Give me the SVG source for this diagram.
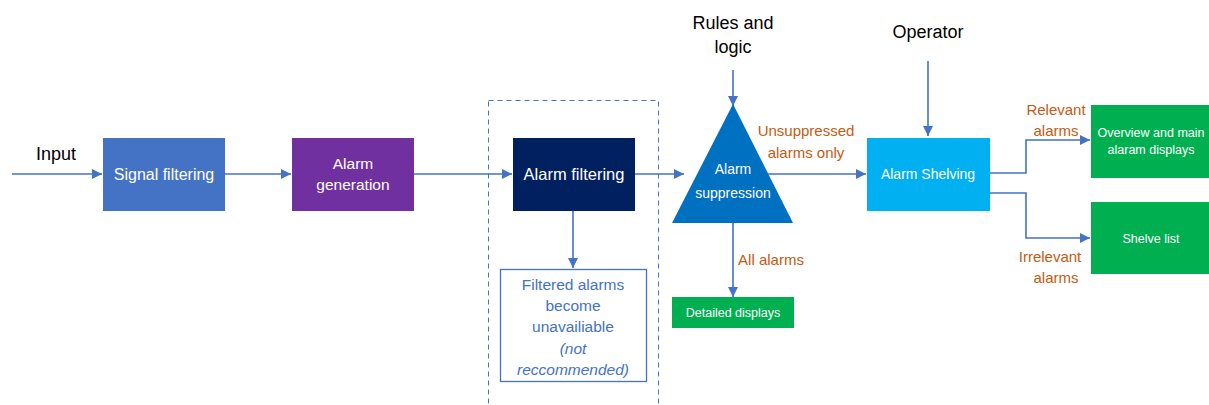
<svg xmlns="http://www.w3.org/2000/svg" width="1209" height="405" viewBox="0 0 1209 405">
<defs>
<marker id="ah" viewBox="0 0 10 10" refX="10" refY="5" markerWidth="10" markerHeight="10" markerUnits="userSpaceOnUse" orient="auto">
<path d="M0,0 L10,5 L0,10 z" fill="#4472C4"/>
</marker>
<style>
text{font-family:"Liberation Sans",Arial,sans-serif;text-anchor:middle}
.w{fill:#fff;font-size:14px}
.k{fill:#000;font-size:18px}
.o{fill:#C55A11;font-size:15px}
.b{fill:#4472C4;font-size:15.5px}
.c{fill:none;stroke:#4472C4;stroke-width:1.6}
</style>
</defs>
<rect width="1209" height="405" fill="#fff"/>
<rect x="488.5" y="100.5" width="170" height="310" fill="none" stroke="#4472C4" stroke-width="1" stroke-dasharray="5,4"/>
<g id="connectors">
<path class="c" d="M12,174 H102" marker-end="url(#ah)"/>
<path class="c" d="M225,174 H291" marker-end="url(#ah)"/>
<path class="c" d="M414,174 H512" marker-end="url(#ah)"/>
<path class="c" d="M635,174 H684" marker-end="url(#ah)"/>
<path class="c" d="M767,174 H866" marker-end="url(#ah)"/>
<path class="c" d="M733,70 V106" marker-end="url(#ah)"/>
<path class="c" d="M928,61 V136" marker-end="url(#ah)"/>
<path class="c" d="M573,211 V268" marker-end="url(#ah)"/>
<path class="c" d="M733,223 V297" marker-end="url(#ah)"/>
<path class="c" d="M990,173 H1026 V140 H1090" marker-end="url(#ah)"/>
<path class="c" d="M990,193 H1026 V238 H1090" marker-end="url(#ah)"/>
</g>
<g id="input"><text class="k" x="56" y="160">Input</text></g>
<g id="rules"><text class="k" x="733" y="29">Rules and</text><text class="k" x="733" y="53">logic</text></g>
<g id="operator"><text class="k" x="928" y="38">Operator</text></g>
<g id="signal-filtering"><rect x="103" y="138" width="122" height="73" fill="#4472C4"/><text class="w" x="164" y="180" style="font-size:16px">Signal filtering</text></g>
<g id="alarm-generation"><rect x="292" y="138" width="122" height="73" fill="#7030A0"/><text class="w" x="353" y="169" style="font-size:15.5px">Alarm</text><text class="w" x="353" y="190" style="font-size:15.5px">generation</text></g>
<g id="alarm-filtering"><rect x="513" y="138" width="122" height="73" fill="#002060"/><text class="w" x="574" y="180" style="font-size:16.5px">Alarm filtering</text></g>
<g id="filtered"><rect x="500.5" y="269.5" width="146" height="112" fill="#fff" stroke="#4472C4" stroke-width="1.3"/>
<text class="b" x="573" y="290">Filtered alarms</text><text class="b" x="573" y="311">become</text><text class="b" x="573" y="332">unavailiable</text>
<text class="b" x="573" y="354" font-style="italic">(not</text><text class="b" x="573" y="375" font-style="italic">reccommended)</text></g>
<g id="alarm-suppression"><path d="M733,104 L793,223 L672,223 Z" fill="#0070C0"/><text class="w" x="733" y="174">Alarm</text><text class="w" x="733" y="198">suppression</text></g>
<g id="unsuppressed-label"><text class="o" x="806" y="136">Unsuppressed</text><text class="o" x="806" y="158">alarms only</text></g>
<g id="all-label"><text class="o" x="771" y="265">All alarms</text></g>
<g id="detailed"><rect x="672" y="297" width="122" height="31" fill="#00B050"/><text class="w" x="733" y="317" style="font-size:12.5px">Detailed displays</text></g>
<g id="alarm-shelving"><rect x="867" y="138" width="123" height="73" fill="#00B0F0"/><text class="w" x="928" y="179">Alarm Shelving</text></g>
<g id="relevant-label"><text class="o" x="1056" y="115">Relevant</text><text class="o" x="1056" y="136">alarms</text></g>
<g id="irrelevant-label"><text class="o" x="1050" y="262">Irrelevant</text><text class="o" x="1056" y="283">alarms</text></g>
<g id="overview"><rect x="1091" y="105" width="118" height="73" fill="#00B050"/><text class="w" x="1151" y="137" style="font-size:12.5px">Overview and main</text><text class="w" x="1151" y="154" style="font-size:12.5px">alaram displays</text></g>
<g id="shelve-list"><rect x="1091" y="202" width="118" height="72" fill="#00B050"/><text class="w" x="1151" y="243" style="font-size:12.5px">Shelve list</text></g>
</svg>
